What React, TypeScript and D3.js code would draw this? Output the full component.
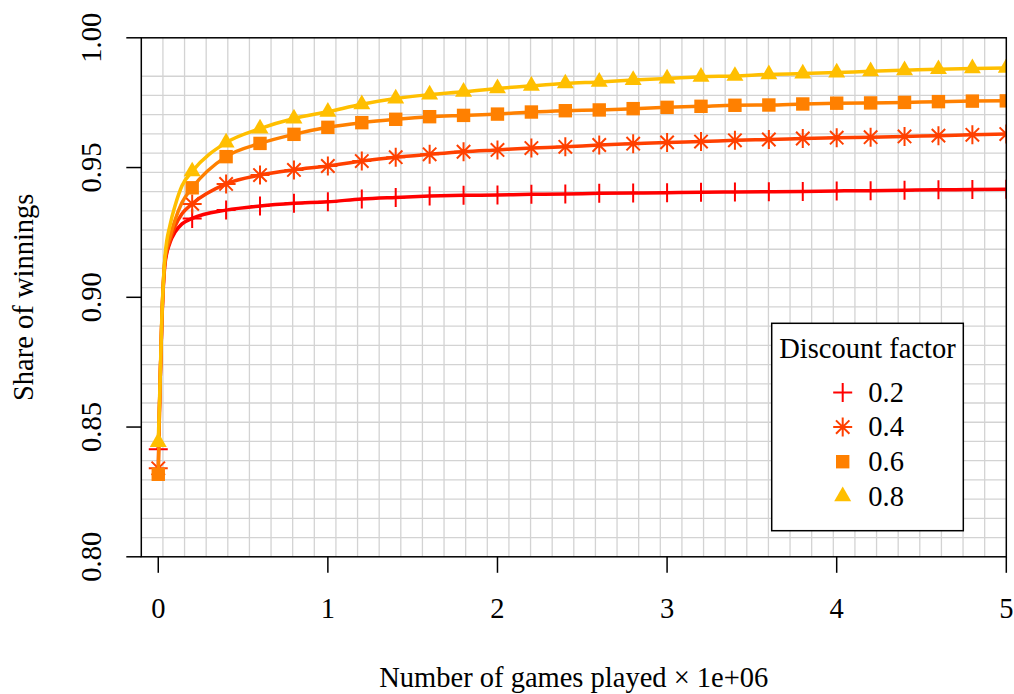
import { useEffect, useRef } from 'react';
import * as d3 from 'd3';

// games played (x 1e+06) where the markers sit
const games = [0, 0.2, 0.4, 0.6, 0.8, 1.0, 1.2, 1.4, 1.6, 1.8, 2.0, 2.2, 2.4, 2.6,
  2.8, 3.0, 3.2, 3.4, 3.6, 3.8, 4.0, 4.2, 4.4, 4.6, 4.8, 5.0];

// extra readings of the lines close to zero (steep start)
const earlyGames = [0.01, 0.02, 0.04, 0.07, 0.1, 0.14];

const share02 = [0.8414, 0.9304, 0.9336, 0.9352, 0.9362, 0.9368, 0.9379, 0.9385, 0.9390,
  0.9393, 0.9394, 0.9397, 0.9398, 0.9401, 0.9402, 0.9403, 0.9405, 0.9406, 0.9407, 0.9408,
  0.9410, 0.9411, 0.9413, 0.9414, 0.9415, 0.9416];
const share04 = [0.8341, 0.9360, 0.9437, 0.9471, 0.9491, 0.9506, 0.9525, 0.9540, 0.9551,
  0.9561, 0.9568, 0.9575, 0.9580, 0.9587, 0.9592, 0.9597, 0.9600, 0.9605, 0.9608, 0.9612,
  0.9615, 0.9617, 0.9620, 0.9623, 0.9626, 0.9629];
const share06 = [0.8318, 0.9422, 0.9542, 0.9593, 0.9628, 0.9655, 0.9673, 0.9686, 0.9696,
  0.9701, 0.9706, 0.9714, 0.9719, 0.9722, 0.9727, 0.9732, 0.9736, 0.9740, 0.9741, 0.9745,
  0.9748, 0.9749, 0.9751, 0.9754, 0.9756, 0.9757];
const share08 = [0.8442, 0.9485, 0.9596, 0.9650, 0.9689, 0.9715, 0.9744, 0.9766, 0.9781,
  0.9792, 0.9805, 0.9815, 0.9824, 0.9830, 0.9837, 0.9843, 0.9850, 0.9853, 0.9859, 0.9862,
  0.9866, 0.9871, 0.9875, 0.9879, 0.9882, 0.9884];

const early02 = [0.865, 0.888, 0.913, 0.9212, 0.9252, 0.9283];
const early04 = [0.865, 0.889, 0.914, 0.922, 0.9275, 0.9322];
const early06 = [0.865, 0.889, 0.915, 0.9235, 0.930, 0.9365];
const early08 = [0.866, 0.890, 0.916, 0.928, 0.9355, 0.943];

const discounts = ['0.2', '0.4', '0.6', '0.8'];
const colors = ['#FF0000', '#FF4000', '#FF8000', '#FFBF00'];
const shapes = ['plus', 'star', 'square', 'triangle'];

const xTicks = [0, 1, 2, 3, 4, 5];
const yTicks = [0.80, 0.85, 0.90, 0.95, 1.00];

const FONT = '"Liberation Serif", "DejaVu Serif", serif';

function drawMarker(g: any, shape: string, color: string) {
  if (shape === 'plus') {
    g.append('path').attr('d', 'M-9.5,0H9.5M0,-9.5V9.5')
      .attr('stroke', color).attr('stroke-width', 2).attr('fill', 'none');
  } else if (shape === 'star') {
    g.append('path').attr('d', 'M-9.5,0H9.5M0,-9.5V9.5M-6.7,-6.7L6.7,6.7M-6.7,6.7L6.7,-6.7')
      .attr('stroke', color).attr('stroke-width', 2).attr('fill', 'none');
  } else if (shape === 'square') {
    g.append('rect').attr('x', -6.7).attr('y', -6.7).attr('width', 13.4).attr('height', 13.4)
      .attr('fill', color);
  } else {
    const r = 9.8;
    g.append('path')
      .attr('d', `M0,${-r}L${0.866 * r},${r / 2}L${-0.866 * r},${r / 2}Z`)
      .attr('fill', color);
  }
}

export default function App() {
  const svgRef = useRef<SVGSVGElement | null>(null);

  useEffect(() => {
    if (!svgRef.current) return;
    const svg = d3.select(svgRef.current);
    svg.selectAll('*').remove();

    const left = 141.3, right = 1006.3, top = 37.8, bottom = 556.8;

    const x = d3.scaleLinear().domain([-0.1, 5.0]).range([left, right]);
    const y = d3.scaleLinear().domain([0.8, 1.0]).range([bottom, top]);

    svg.append('rect').attr('width', 1014).attr('height', 694).attr('fill', '#fff');

    svg.append('defs').append('clipPath').attr('id', 'plot-clip')
      .append('rect')
      .attr('x', left).attr('y', top)
      .attr('width', right - left).attr('height', bottom - top);

    // grid
    const grid = svg.append('g').attr('stroke', '#D3D3D3').attr('stroke-width', 1.3);
    d3.range(1, 40).forEach(k => {
      const gx = x(-0.1 + (k * 5.1) / 40);
      grid.append('line').attr('x1', gx).attr('x2', gx).attr('y1', top).attr('y2', bottom);
    });
    d3.range(1, 26).forEach(k => {
      const gy = y(0.8 + (k * 0.2) / 27);
      grid.append('line').attr('x1', left).attr('x2', right).attr('y1', gy).attr('y2', gy);
    });

    // series
    const series = [
      { main: share02, early: early02 },
      { main: share04, early: early04 },
      { main: share06, early: early06 },
      { main: share08, early: early08 },
    ];

    const line = d3.line<[number, number]>()
      .x(d => x(d[0]))
      .y(d => y(d[1]))
      .curve(d3.curveMonotoneX);

    const plot = svg.append('g').attr('clip-path', 'url(#plot-clip)');

    series.forEach((s, i) => {
      const pts: [number, number][] = [[games[0], s.main[0]]];
      earlyGames.forEach((g, j) => pts.push([g, s.early[j]]));
      games.slice(1).forEach((g, j) => pts.push([g, s.main[j + 1]]));

      plot.append('path')
        .datum(pts)
        .attr('fill', 'none')
        .attr('stroke', colors[i])
        .attr('stroke-width', 3.5)
        .attr('stroke-linejoin', 'round')
        .attr('d', line);

      games.forEach((g, j) => {
        const m = plot.append('g').attr('transform', `translate(${x(g)},${y(s.main[j])})`);
        drawMarker(m, shapes[i], colors[i]);
      });
    });

    // box
    svg.append('rect')
      .attr('x', left).attr('y', top)
      .attr('width', right - left).attr('height', bottom - top)
      .attr('fill', 'none').attr('stroke', '#000').attr('stroke-width', 1.5);

    // x axis
    xTicks.forEach(t => {
      svg.append('line')
        .attr('x1', x(t)).attr('x2', x(t)).attr('y1', bottom).attr('y2', bottom + 16)
        .attr('stroke', '#000').attr('stroke-width', 1.5);
      svg.append('text')
        .attr('x', x(t)).attr('y', 618)
        .attr('text-anchor', 'middle')
        .style('font-family', FONT).style('font-size', '28.5px')
        .text(String(t));
    });

    // y axis
    yTicks.forEach(t => {
      svg.append('line')
        .attr('x1', left - 15).attr('x2', left).attr('y1', y(t)).attr('y2', y(t))
        .attr('stroke', '#000').attr('stroke-width', 1.5);
      svg.append('text')
        .attr('transform', `translate(100.5,${y(t)}) rotate(-90)`)
        .attr('text-anchor', 'middle')
        .style('font-family', FONT).style('font-size', '28.5px')
        .text(t.toFixed(2));
    });

    svg.append('text')
      .attr('x', (left + right) / 2).attr('y', 687)
      .attr('text-anchor', 'middle')
      .style('font-family', FONT).style('font-size', '28.5px')
      .text('Number of games played × 1e+06');

    svg.append('text')
      .attr('transform', `translate(33,${(top + bottom) / 2}) rotate(-90)`)
      .attr('text-anchor', 'middle')
      .style('font-family', FONT).style('font-size', '28.5px')
      .text('Share of winnings');

    // legend
    const legend = svg.append('g');
    legend.append('rect')
      .attr('x', 771.7).attr('y', 323.3).attr('width', 191.6).attr('height', 207.4)
      .attr('fill', '#fff').attr('stroke', '#000').attr('stroke-width', 1.5);
    legend.append('text')
      .attr('x', 867.5).attr('y', 358.3)
      .attr('text-anchor', 'middle')
      .style('font-family', FONT).style('font-size', '28.5px')
      .text('Discount factor');

    discounts.forEach((d, i) => {
      const cy = 392.5 + i * 34.6;
      const m = legend.append('g').attr('transform', `translate(842.7,${cy})`);
      drawMarker(m, shapes[i], colors[i]);
      legend.append('text')
        .attr('x', 868.3).attr('y', cy + 9.2)
        .style('font-family', FONT).style('font-size', '28.5px')
        .text(d);
    });
  }, []);

  return (
    <svg
      ref={svgRef}
      width={1014}
      height={694}
      style={{ position: 'absolute', left: 0, top: 0 }}
    />
  );
}
